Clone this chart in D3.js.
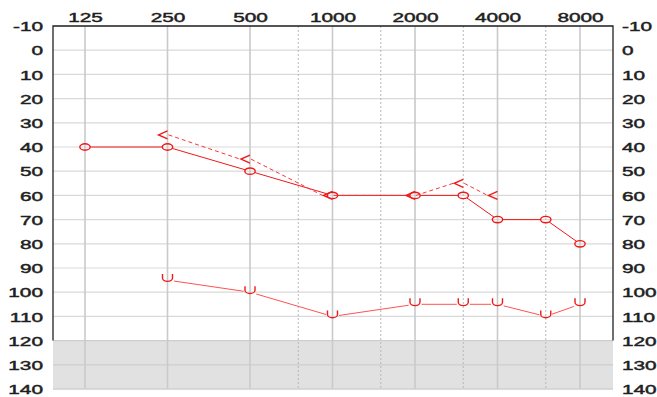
<!DOCTYPE html>
<html>
<head>
<meta charset="utf-8">
<script src="https://cdn.jsdelivr.net/npm/d3@7"></script>
<style>
  html, body { margin: 0; padding: 0; background: #fff; }
  svg { display: block; }
  .lbl { font-family: "Liberation Sans", Arial, sans-serif; font-size: 13px; fill: #1e1e1e; stroke: #1e1e1e; stroke-width: 0.45px; }
</style>
</head>
<body>
<svg id="chart" width="657" height="397"></svg>
<script>
// Audiogram: frequency (Hz) across the top, hearing level (dB) downwards.
const freqTicks = [125, 250, 500, 1000, 2000, 4000, 8000];
const midFreqs = [750, 1500, 3000, 6000];
const levelTicks = [-10, 0, 10, 20, 30, 40, 50, 60, 70, 80, 90, 100, 110, 120, 130, 140];
const outOfRange = [120, 140];

// Air conduction (O)
const airFreqs = [125, 250, 500, 1000, 2000, 3000, 4000, 6000, 8000];
const airLevels = [40, 40, 50, 60, 60, 60, 70, 70, 80];

// Bone conduction (<)
const boneFreqs = [250, 500, 1000, 2000, 3000, 4000];
const boneLevels = [35, 45, 60, 60, 55, 60];

// Uncomfortable loudness level (U)
const uclFreqs = [250, 500, 1000, 2000, 3000, 4000, 6000, 8000];
const uclLevels = [95, 100, 110, 105, 105, 105, 110, 105];

const svg = d3.select("#chart");
const plotL = 53, plotR = 613, plotT = 26, plotB = 389;

const x = d3.scaleLog().base(2).domain([125, 8000]).range([85, 580]);
const y = d3.scaleLinear().domain([-10, 140]).range([plotT, plotB]);

// shaded region beyond the audiometer's limit
svg.append("rect")
  .attr("x", plotL).attr("y", y(outOfRange[0]))
  .attr("width", plotR - plotL).attr("height", y(outOfRange[1]) - y(outOfRange[0]))
  .attr("fill", "#e1e1e1");

// horizontal grid
svg.append("g").selectAll("line").data(levelTicks).join("line")
  .attr("x1", plotL).attr("x2", plotR)
  .attr("y1", d => y(d)).attr("y2", d => y(d))
  .attr("stroke", d => d >= 120 ? "#cdcdcd" : "#d9d9d9").attr("stroke-width", 1.2);

// octave lines
svg.append("g").selectAll("line").data(freqTicks).join("line")
  .attr("x1", d => x(d)).attr("x2", d => x(d))
  .attr("y1", plotT).attr("y2", plotB)
  .attr("stroke", "#cacaca").attr("stroke-width", 1.6);

// half-octave lines
svg.append("g").selectAll("line").data(midFreqs).join("line")
  .attr("x1", d => x(d)).attr("x2", d => x(d))
  .attr("y1", plotT).attr("y2", plotB)
  .attr("stroke", "#b8b8b8").attr("stroke-width", 1).attr("stroke-dasharray", "2,2");

// frame
svg.append("path")
  .attr("d", `M${plotL},${y(outOfRange[0])} L${plotL},${plotT} L${plotR},${plotT} L${plotR},${y(outOfRange[0])}`)
  .attr("stroke", "#222").attr("stroke-width", 1.3).attr("fill", "none");
svg.append("line").attr("x1", plotL).attr("x2", plotR).attr("y1", plotB).attr("y2", plotB)
  .attr("stroke", "#d0d0d0").attr("stroke-width", 1);

// axes
const plain = d => String(d);
const stretch = "scale(1.6,1)";
const topAxis = svg.append("g").attr("transform", `translate(0,${plotT})`)
  .call(d3.axisTop(x).tickValues(freqTicks).tickFormat(plain).tickSize(0).tickPadding(0));
const leftAxis = svg.append("g").attr("transform", `translate(${plotL},0)`)
  .call(d3.axisLeft(y).tickValues(levelTicks).tickFormat(plain).tickSize(0).tickPadding(0));
const rightAxis = svg.append("g").attr("transform", `translate(${plotR},0)`)
  .call(d3.axisRight(y).tickValues(levelTicks).tickFormat(plain).tickSize(0).tickPadding(0));
[topAxis, leftAxis, rightAxis].forEach(g => {
  g.select(".domain").remove();
  g.attr("font-family", null).attr("font-size", null);
  g.selectAll("text").attr("class", "lbl").attr("fill", null);
});
topAxis.selectAll("text").attr("x", 0).attr("y", 0).attr("dy", 0)
  .attr("transform", `translate(0,-4) ${stretch}`);
leftAxis.selectAll("text").attr("x", 0).attr("dy", "0.36em").attr("text-anchor", "end")
  .attr("transform", `translate(-10,0) ${stretch}`);
rightAxis.selectAll("text").attr("x", 0).attr("dy", "0.36em").attr("text-anchor", "start")
  .attr("transform", `translate(9,0) ${stretch}`);

// helper: segments between consecutive points, trimmed at each end
function segments(pts, trimA, trimB) {
  const out = [];
  for (let i = 0; i < pts.length - 1; i++) {
    const [x1, y1] = pts[i], [x2, y2] = pts[i + 1];
    const dx = x2 - x1, dy = y2 - y1, len = Math.hypot(dx, dy);
    const ux = dx / len, uy = dy / len;
    const a = trimA(ux, uy), b = trimB(ux, uy);
    out.push([x1 + ux * a, y1 + uy * a, x2 - ux * b, y2 - uy * b]);
  }
  return out;
}

const red = "#f01818";

// air conduction
const rx = 5.2, ry = 3.2;
const ellipseTrim = (ux, uy) => 1 / Math.sqrt((ux / rx) ** 2 + (uy / ry) ** 2);
const airPts = airFreqs.map((f, i) => [x(f), y(airLevels[i])]);
svg.append("g").selectAll("line").data(segments(airPts, ellipseTrim, ellipseTrim)).join("line")
  .attr("x1", d => d[0]).attr("y1", d => d[1]).attr("x2", d => d[2]).attr("y2", d => d[3])
  .attr("stroke", red).attr("stroke-width", 1);
svg.append("g").selectAll("ellipse").data(airPts).join("ellipse")
  .attr("cx", d => d[0]).attr("cy", d => d[1]).attr("rx", rx).attr("ry", ry)
  .attr("fill", "none").attr("stroke", red).attr("stroke-width", 1.4);

// bone conduction
const bonePts = boneFreqs.map((f, i) => [x(f), y(boneLevels[i])]);
const boneLinks = bonePts.slice(0, -1).map((p, i) => [p[0] + 1, p[1], bonePts[i + 1][0] - 10, bonePts[i + 1][1]]);
svg.append("g").selectAll("line").data(boneLinks).join("line")
  .attr("x1", d => d[0]).attr("y1", d => d[1]).attr("x2", d => d[2]).attr("y2", d => d[3])
  .attr("stroke", "#f33").attr("stroke-width", 1).attr("stroke-dasharray", "4,3");
svg.append("g").selectAll("path").data(bonePts).join("path")
  .attr("d", d => `M${d[0]},${d[1] - 4} L${d[0] - 9},${d[1]} L${d[0]},${d[1] + 4}`)
  .attr("fill", "none").attr("stroke", red).attr("stroke-width", 1.4);

// uncomfortable loudness level
const uclPts = uclFreqs.map((f, i) => [x(f), y(uclLevels[i])]);
const uTrim = () => 6.5;
svg.append("g").selectAll("line").data(segments(uclPts, uTrim, uTrim)).join("line")
  .attr("x1", d => d[0]).attr("y1", d => d[1]).attr("x2", d => d[2]).attr("y2", d => d[3])
  .attr("stroke", "#ff5252").attr("stroke-width", 1);
svg.append("g").selectAll("path").data(uclPts).join("path")
  .attr("d", d => `M${d[0] - 5},${d[1] - 6} L${d[0] - 5},${d[1] - 2} A5,3.3 0 0 0 ${d[0] + 5},${d[1] - 2} L${d[0] + 5},${d[1] - 6}`)
  .attr("fill", "none").attr("stroke", red).attr("stroke-width", 1.4);
</script>
</body>
</html>
